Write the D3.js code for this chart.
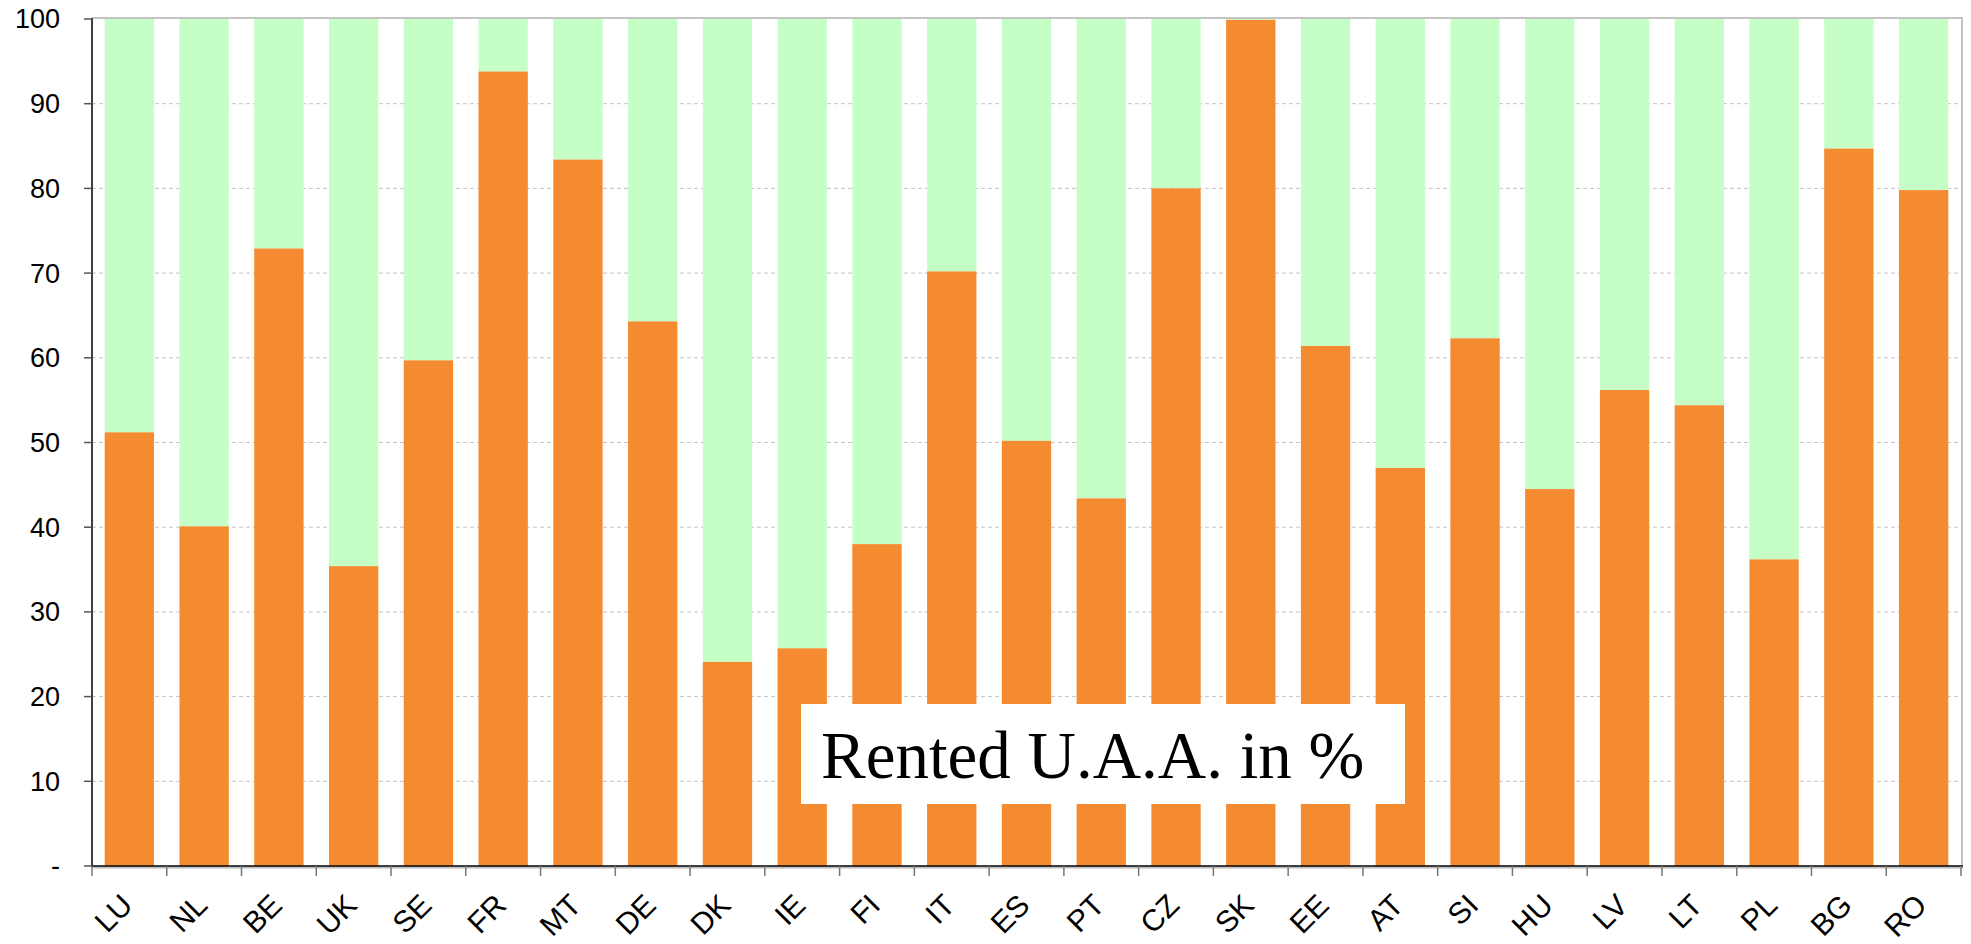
<!DOCTYPE html>
<html>
<head>
<meta charset="utf-8">
<script src="https://cdn.jsdelivr.net/npm/d3@7"></script>
<style>
  html, body { margin: 0; padding: 0; background: #fff; }
  svg { display: block; }
</style>
</head>
<body>
<svg id="chart" width="1971" height="944"></svg>
<script>
const categories = ["LU","NL","BE","UK","SE","FR","MT","DE","DK","IE","FI","IT","ES","PT","CZ","SK","EE","AT","SI","HU","LV","LT","PL","BG","RO"];
const rentedValues = [51.2, 40.1, 72.9, 35.4, 59.7, 93.8, 83.4, 64.3, 24.1, 25.7, 38.0, 70.2, 50.2, 43.4, 80.0, 99.9, 61.4, 47.0, 62.3, 44.5, 56.2, 54.4, 36.2, 84.7, 79.8];
const totalValue = 100;
const yTickValues = [0, 10, 20, 30, 40, 50, 60, 70, 80, 90, 100];
const yTickLabels = ["-", "10", "20", "30", "40", "50", "60", "70", "80", "90", "100"];
const boxLabel = "Rented U.A.A. in %";

(function () {
const svg = d3.select("#chart");
const pL = 92, pT = 19, pR = 1961, pB = 866;

const x = d3.scaleBand().domain(categories).range([pL, pR]).paddingInner(0.34).paddingOuter(0.17);
const y = d3.scaleLinear().domain([0, 100]).range([pB, pT]);

// grid lines
svg.append("g").selectAll("line").data(yTickValues.filter(v => v > 0 && v < 100)).join("line")
  .attr("x1", pL).attr("x2", pR)
  .attr("y1", d => y(d)).attr("y2", d => y(d))
  .attr("stroke", "#c4c4c4").attr("stroke-width", 1).attr("stroke-dasharray", "4,3");

// top & right border
svg.append("line").attr("x1", pL).attr("x2", pR + 1).attr("y1", pT - 1).attr("y2", pT - 1)
  .attr("stroke", "#c4c4c4").attr("stroke-width", 2);
svg.append("line").attr("x1", pR + 1).attr("x2", pR + 1).attr("y1", pT - 2).attr("y2", pB + 2)
  .attr("stroke", "#c4c4c4").attr("stroke-width", 2);

// green (remainder) bars
svg.append("g").selectAll("rect").data(categories).join("rect")
  .attr("x", d => x(d)).attr("width", x.bandwidth())
  .attr("y", y(totalValue)).attr("height", (d, i) => y(rentedValues[i]) - y(totalValue))
  .attr("fill", "#c6ffc6");

// orange (rented) bars
svg.append("g").selectAll("rect").data(categories).join("rect")
  .attr("x", d => x(d)).attr("width", x.bandwidth())
  .attr("y", (d, i) => y(rentedValues[i])).attr("height", (d, i) => pB - y(rentedValues[i]))
  .attr("fill", "#f58b31");

// x axis
svg.append("line").attr("x1", pL).attr("x2", pR + 2).attr("y1", pB + 1.5).attr("y2", pB + 1.5)
  .attr("stroke", "#bdbdbd").attr("stroke-width", 2);
svg.append("line").attr("x1", pL).attr("x2", pR + 2).attr("y1", pB).attr("y2", pB)
  .attr("stroke", "#000").attr("stroke-width", 1.5);
const edges = categories.map(c => x(c) - x.step() * x.paddingInner() / 2).concat([pR]);
svg.append("g").selectAll("line").data(edges).join("line")
  .attr("x1", d => d).attr("x2", d => d).attr("y1", pB).attr("y2", pB + 10)
  .attr("stroke", "#777").attr("stroke-width", 1.5);

svg.append("g").selectAll("text").data(categories).join("text")
  .attr("transform", d => `translate(${x(d) + x.bandwidth() / 2 + 5},${pB + 41}) rotate(-45)`)
  .attr("text-anchor", "end")
  .attr("font-family", "Liberation Sans, Arial, sans-serif")
  .attr("font-size", 30)
  .attr("fill", "#000")
  .text(d => d);

// y axis
svg.append("line").attr("x1", pL).attr("x2", pL).attr("y1", pT - 1).attr("y2", pB)
  .attr("stroke", "#000").attr("stroke-width", 1.5);
svg.append("g").selectAll("line").data(yTickValues).join("line")
  .attr("x1", pL - 8).attr("x2", pL).attr("y1", d => y(d)).attr("y2", d => y(d))
  .attr("stroke", "#555").attr("stroke-width", 1.5);
svg.append("g").selectAll("text").data(yTickValues).join("text")
  .attr("x", 60).attr("y", d => y(d)).attr("dy", "0.35em")
  .attr("text-anchor", "end")
  .attr("font-family", "Liberation Sans, Arial, sans-serif")
  .attr("font-size", 27)
  .attr("fill", "#000")
  .text((d, i) => yTickLabels[i]);

// label box
svg.append("rect").attr("x", 801).attr("y", 704).attr("width", 604).attr("height", 100).attr("fill", "#fff");
svg.append("text").attr("x", 821).attr("y", 778)
  .attr("font-family", "Liberation Serif, Times New Roman, serif")
  .attr("font-size", 67)
  .attr("fill", "#000")
  .text(boxLabel);
})();
</script>
</body>
</html>
